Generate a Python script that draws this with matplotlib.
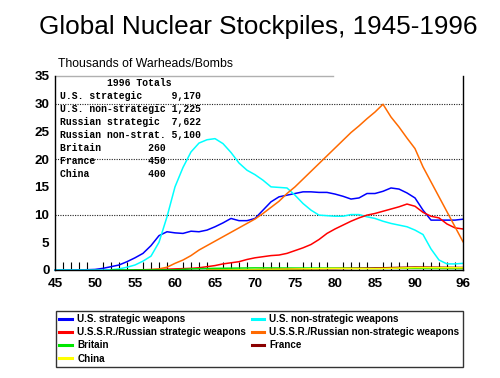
import matplotlib
matplotlib.use("Agg")
import matplotlib.pyplot as plt

# ---------------- data (thousands of warheads) ----------------
us_strat_years = [45, 46, 47, 49, 50, 51, 52, 53, 54, 55, 56, 57, 58, 59, 60, 61, 62, 63, 64, 65,
                  66, 67, 68, 69, 70, 71, 72, 73, 74, 75, 76, 77, 78, 79, 80, 81, 82, 83, 84, 85,
                  86, 87, 88, 89, 90, 91, 92, 93, 94, 95, 96]
us_strat_vals = [0, 0, 0.01, 0.05, 0.1, 0.3, 0.6, 0.9, 1.5, 2.2, 3.0, 4.4, 6.2, 6.9, 6.7, 6.6, 7.0, 6.9, 7.2, 7.8,
                 8.5, 9.3, 8.9, 8.9, 9.3, 10.8, 12.3, 13.2, 13.5, 13.8, 14.1, 14.1, 14.0, 14.0, 13.7, 13.3, 12.8, 13.0, 13.8, 13.8,
                 14.2, 14.8, 14.6, 13.9, 13.0, 10.8, 9.0, 9.0, 9.0, 9.0, 9.17]

us_nonstrat_years = [45, 51, 52, 53, 54, 55, 56, 57, 58, 59, 60, 61, 62, 63, 64, 65, 66, 67, 68, 69,
                     70, 71, 72, 73, 74, 75, 76, 77, 78, 79, 80, 81, 82, 83, 84, 85, 86, 87, 88, 89,
                     90, 91, 92, 93, 94, 95, 96]
us_nonstrat_vals = [0, 0.0, 0.05, 0.2, 0.5, 0.9, 1.6, 2.5, 5.0, 9.6, 15.0, 18.5, 21.3, 22.9, 23.5, 23.7, 22.8, 21.2, 19.3, 18.0,
                    17.2, 16.2, 15.0, 14.9, 14.8, 13.5, 12.0, 10.8, 9.9, 9.8, 9.7, 9.7, 10.0, 10.0, 9.6, 9.3, 8.8, 8.4, 8.1, 7.8,
                    7.2, 6.4, 3.8, 1.8, 1.1, 1.1, 1.2]

ru_strat_years = [56, 58, 60, 61, 62, 63, 64, 65, 66, 67, 68, 69, 70, 71, 72, 73, 74, 75, 76, 77,
                  78, 79, 80, 81, 82, 83, 84, 85, 86, 87, 88, 89, 90, 91, 92, 93, 94, 95, 96]
ru_strat_vals = [0, 0.1, 0.2, 0.25, 0.3, 0.4, 0.6, 0.8, 1.1, 1.3, 1.5, 1.9, 2.2, 2.4, 2.6, 2.7, 3.0, 3.5, 4.0, 4.6,
                 5.5, 6.6, 7.4, 8.1, 8.8, 9.4, 9.9, 10.2, 10.6, 11.0, 11.4, 11.9, 11.5, 10.4, 9.7, 9.4, 8.3, 7.6, 7.4]

ru_nonstrat_years = [55, 56, 57, 58, 59, 60, 61, 62, 63, 64, 65, 66, 67, 68, 69, 70, 71, 72, 73, 74,
                     75, 76, 77, 78, 79, 80, 81, 82, 83, 84, 85, 86, 87, 88, 89, 90, 91, 92, 93, 94, 95, 96]
ru_nonstrat_vals = [0, 0.05, 0.1, 0.2, 0.5, 1.2, 1.8, 2.6, 3.6, 4.4, 5.2, 6.0, 6.8, 7.6, 8.4, 9.2, 10.2, 11.3, 12.4, 13.8,
                    15.0, 16.4, 17.8, 19.2, 20.6, 22.0, 23.4, 24.8, 26.0, 27.3, 28.5, 29.9, 27.6, 25.8, 23.8, 21.9, 18.6, 15.9, 13.2, 10.5, 7.8, 5.1]

britain_years = [52, 53, 55, 58, 60, 62, 65, 70, 75, 80, 85, 90, 96]
britain_vals = [0, 0.01, 0.02, 0.02, 0.03, 0.2, 0.3, 0.38, 0.35, 0.35, 0.3, 0.3, 0.26]

france_years = [64, 65, 70, 75, 80, 85, 90, 96]
france_vals = [0, 0.03, 0.04, 0.2, 0.25, 0.36, 0.54, 0.45]

china_years = [64, 65, 70, 75, 80, 85, 90, 96]
china_vals = [0, 0.005, 0.075, 0.185, 0.28, 0.24, 0.43, 0.4]

series_labels = ["U.S. strategic weapons", "U.S. non-strategic weapons",
                 "U.S.S.R./Russian strategic weapons", "U.S.S.R./Russian non-strategic weapons",
                 "Britain", "France", "China"]
series_colors = ["#0000ff", "#00ffff", "#ff0000", "#ff6a00", "#00e600", "#8b0000", "#ffff00"]

x_ticks = [45, 50, 55, 60, 65, 70, 75, 80, 85, 90, 96]
y_ticks = [0, 5, 10, 15, 20, 25, 30, 35]
grid_levels = [10, 20, 30]

totals_title = "1996 Totals"
totals_lines = [("U.S. strategic", "9,170"),
                ("U.S. non-strategic", "1,225"),
                ("Russian strategic", "7,622"),
                ("Russian non-strat.", "5,100"),
                ("Britain", "260"),
                ("France", "450"),
                ("China", "400")]

# ---------------- figure ----------------
fig = plt.figure(figsize=(5.0, 3.78), dpi=100)
fig.patch.set_facecolor("white")
ax = fig.add_axes([55 / 500, (378 - 270) / 378, 408 / 500, 194 / 378])

data = [(us_strat_years, us_strat_vals), (us_nonstrat_years, us_nonstrat_vals),
        (ru_strat_years, ru_strat_vals), (ru_nonstrat_years, ru_nonstrat_vals),
        (britain_years, britain_vals), (france_years, france_vals), (china_years, china_vals)]

for lev in grid_levels:
    ax.axhline(lev, color="#222222", lw=0.8, ls=(0, (1, 1.2)), zorder=1)

lines = []
for (xs, ys), lab, col in zip(data, series_labels, series_colors):
    ln, = ax.plot(xs, ys, color=col, lw=1.1, label=lab, zorder=2, clip_on=False)
    lines.append(ln)

ax.set_xlim(45, 96)
ax.set_ylim(0, 35)

ax.set_xticks(x_ticks)
ax.set_xticks(list(range(46, 96)), minor=True)
ax.set_yticks(y_ticks)
ax.tick_params(axis="x", which="major", length=0, pad=6, labelsize=9.7)
ax.tick_params(axis="x", which="minor", direction="in", length=6, width=0.8, color="black")
ax.tick_params(axis="y", length=0, pad=4, labelsize=9.7)
for t in ax.get_xticklabels() + ax.get_yticklabels():
    t.set_fontfamily("Liberation Sans")
    t.set_fontweight("bold")

for s in ["left", "bottom", "right"]:
    ax.spines[s].set_color("black")
    ax.spines[s].set_linewidth(1.0)
    ax.spines[s].set_zorder(5)
ax.spines["top"].set_visible(False)
ax.plot([0, (333 - 55) / 408], [1, 1], transform=ax.transAxes, color="#b0b0b0", lw=1.0, clip_on=False)

# totals box text (monospace)
txt = " " * 8 + totals_title + "\n"
rows = []
for name, val in totals_lines:
    if len(val) == 5:
        rows.append(name.ljust(19) + val)
    else:
        rows.append(name.ljust(15) + val)
txt += "\n".join(rows)
ax.text((60 - 55) / 408, (270 - 78) / 194, txt, transform=ax.transAxes, ha="left", va="top",
        family="Liberation Mono", fontweight="bold", fontsize=7.0, linespacing=1.37, zorder=4)

# titles
fig.text(0.516, 1 - 27 / 378, "Global Nuclear Stockpiles, 1945-1996", ha="center", va="center",
         family="Liberation Sans", fontsize=18.8)
fig.text(58 / 500, 1 - 64 / 378, "Thousands of Warheads/Bombs", ha="left", va="center",
         family="Liberation Sans", fontsize=8.8)

# legend
order = [0, 2, 4, 6, 1, 3, 5]
leg = fig.legend([lines[i] for i in order], [series_labels[i] for i in order],
                 loc="lower left", bbox_to_anchor=(56 / 500, 11 / 378, 407 / 500, 55 / 378),
                 mode="expand", ncol=2, frameon=True, fancybox=False, borderaxespad=0,
                 handlelength=1.3, handletextpad=0.5, labelspacing=0.32, borderpad=0.35,
                 columnspacing=1.0, prop={"family": "Liberation Sans", "weight": "bold", "size": 7.1})
leg.get_frame().set_edgecolor("black")
leg.get_frame().set_linewidth(1.0)
for h in leg.legend_handles:
    h.set_linewidth(2.2)

fig.savefig("out.png", dpi=100, facecolor="white")
